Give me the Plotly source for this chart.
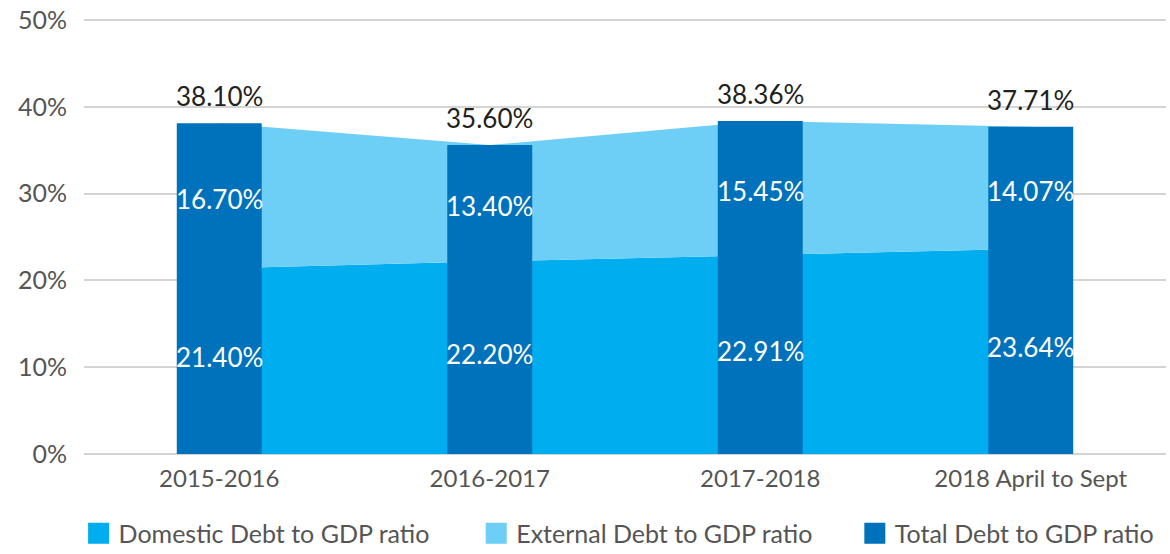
import plotly.graph_objects as go

categories = ["2015-2016", "2016-2017", "2017-2018", "2018 April to Sept"]
domestic = [21.40, 22.20, 22.91, 23.64]
external = [16.70, 13.40, 15.45, 14.07]
total = [38.10, 35.60, 38.36, 37.71]
y_tick_vals = [0, 10, 20, 30, 40, 50]
y_tick_text = ["0%", "10%", "20%", "30%", "40%", "50%"]
series_names = ["Domestic Debt to GDP ratio", "External Debt to GDP ratio", "Total Debt to GDP ratio"]

C_DOM = "#00AEEF"
C_EXT = "#6DCFF6"
C_TOT = "#0072BC"
FONT = "Lato"

fig = go.Figure()
fig.add_trace(go.Scatter(x=categories, y=domestic, stackgroup="debt", mode="none",
                         fillcolor=C_DOM, showlegend=False, hoverinfo="skip"))
fig.add_trace(go.Scatter(x=categories, y=external, stackgroup="debt", mode="none",
                         fillcolor=C_EXT, showlegend=False, hoverinfo="skip"))
fig.add_trace(go.Bar(x=categories, y=total, xaxis="x2", yaxis="y2", width=0.314,
                     marker=dict(color=C_TOT, line=dict(width=0)), showlegend=False,
                     hoverinfo="skip"))

legend_ids = ["legend", "legend2", "legend3"]
for name, color, lg in zip(series_names, [C_DOM, C_EXT, C_TOT], legend_ids):
    fig.add_trace(go.Scatter(x=[None], y=[None], mode="markers", name=name, legend=lg,
                             marker=dict(symbol="square", size=22, color=color,
                                         line=dict(color=color, width=6))))

ann = []
for c, d, e, t in zip(categories, domestic, external, total):
    ann.append(dict(x=c, y=t, text=f"{t:.2f}%", showarrow=False, yanchor="bottom",
                    yshift=9, font=dict(family=FONT, size=26, color="#231F20")))
    ann.append(dict(x=c, y=d + e / 2, text=f"{e:.2f}%", showarrow=False, yanchor="middle",
                    yshift=-3, font=dict(family=FONT, size=26, color="white")))
    ann.append(dict(x=c, y=d / 2, text=f"{d:.2f}%", showarrow=False, yanchor="middle",
                    yshift=4, font=dict(family=FONT, size=26, color="white")))

legend_style = dict(orientation="h", y=-0.183, yanchor="middle", xanchor="left",
                    font=dict(family=FONT, size=25, color="#555555"),
                    itemsizing="trace", bgcolor="rgba(0,0,0,0)", borderwidth=0)

fig.update_layout(
    width=1170, height=554,
    margin=dict(l=84, r=4, t=19, b=100, autoexpand=False),
    paper_bgcolor="white", plot_bgcolor="white",
    font=dict(family=FONT, size=24, color="#555555"),
    xaxis=dict(type="category", categoryorder="array", categoryarray=categories,
               range=[-0.5, 3.5], showgrid=False, zeroline=False, showline=False,
               ticks="", ticklabelstandoff=8, tickfont=dict(size=24, color="#555555")),
    xaxis2=dict(type="category", categoryorder="array", categoryarray=categories,
                range=[-0.5, 3.5], overlaying="x", visible=False),
    yaxis=dict(range=[0, 50.12], tickvals=y_tick_vals, ticktext=y_tick_text,
               showgrid=True, gridcolor="#D4D4D4", gridwidth=1.5,
               zeroline=True, zerolinecolor="#D4D4D4", zerolinewidth=2,
               showline=False, ticks="", ticklabelstandoff=16,
               tickfont=dict(size=25, color="#555555")),
    yaxis2=dict(range=[0, 50.12], overlaying="y", visible=False),
    legend=dict(legend_style, x=-0.005),
    legend2=dict(legend_style, x=0.3625),
    legend3=dict(legend_style, x=0.7124),
    annotations=ann,
    showlegend=True,
)

fig.write_html("out.html")
